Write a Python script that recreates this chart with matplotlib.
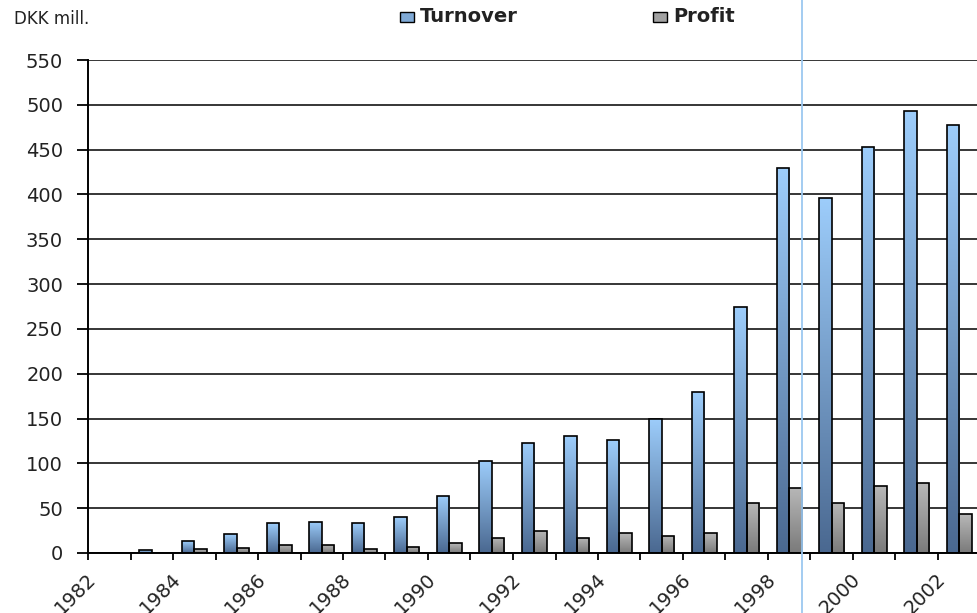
import matplotlib
matplotlib.use("Agg")
import matplotlib.pyplot as plt
import numpy as np
from matplotlib.colors import LinearSegmentedColormap
from matplotlib.transforms import ScaledTranslation
from matplotlib.lines import Line2D
from matplotlib.patches import Rectangle

years = list(range(1982, 2003))
turnover = [0, 3, 13, 21, 33, 35, 33, 40, 64, 103, 123, 130, 126, 150, 180, 274, 429, 396, 453, 493, 477]
profit = [0, 0, 4, 6, 9, 9, 4, 7, 11, 17, 25, 17, 22, 19, 22, 56, 73, 56, 75, 78, 43]
yticks = list(range(0, 551, 50))
xlabels = [str(y) for y in years if y % 2 == 0]

W, H = 978, 613
fig = plt.figure(figsize=(W / 100, H / 100), dpi=100)
ax = fig.add_axes([88 / W, (H - 553) / H, (980.5 - 88) / W, (553 - 60) / H])

x = np.arange(len(years))
bw = 0.29
cm_t = LinearSegmentedColormap.from_list("t", ["#4A6890", "#9DCDFB"])
cm_p = LinearSegmentedColormap.from_list("p", ["#7A7A7A", "#B8B8B8"])
grad = np.linspace(0, 1, 256).reshape(-1, 1)

b1 = ax.bar(x - bw / 2, turnover, bw, facecolor="none", edgecolor="black", linewidth=1.2, zorder=4)
b2 = ax.bar(x + bw / 2, profit, bw, facecolor="none", edgecolor="black", linewidth=1.2, zorder=4)
for bars, cm in ((b1, cm_t), (b2, cm_p)):
    for r in bars:
        h = r.get_height()
        if h <= 0:
            continue
        x0 = r.get_x()
        im = ax.imshow(grad, extent=[x0, x0 + r.get_width(), 0, h], origin="lower",
                       aspect="auto", cmap=cm, zorder=3)
        im.set_clip_path(r)

ax.set_xlim(-0.5, len(years) - 0.5)
ax.set_ylim(0, 550)
ax.set_yticks(yticks)
ax.yaxis.grid(True, color="black", linewidth=1.1)
ax.set_axisbelow(True)
for s in ("top", "right"):
    ax.spines[s].set_visible(False)
ax.spines["left"].set_linewidth(1.4)
ax.spines["bottom"].set_linewidth(1.4)
ax.spines["left"].set_zorder(5)
ax.spines["bottom"].set_zorder(5)

ax.set_xticks(np.arange(-0.5, len(years), 1.0))
ax.set_xticklabels([])
ax.set_xticks([i for i, y in enumerate(years) if y % 2 == 0], xlabels, minor=True)
ax.tick_params(axis="x", which="major", length=5, width=1.3, direction="out")
ax.tick_params(axis="x", which="minor", length=0, pad=12, labelsize=14, labelcolor="#222222")
ax.tick_params(axis="y", length=8, width=1.3, pad=10, labelsize=14, labelcolor="#222222")
off = ScaledTranslation(-0.1, 0, fig.dpi_scale_trans)
for lab in ax.get_xticklabels(minor=True):
    lab.set_rotation(45)
    lab.set_ha("right")
    lab.set_va("top")
    lab.set_transform(lab.get_transform() + off)

fig.text(14 / W, 1 - 19 / H, "DKK mill.", fontsize=12, color="#222222", va="center", ha="left")

# legend
for mx, label, cm in ((400, "Turnover", cm_t), (653, "Profit", cm_p)):
    fig.patches.append(Rectangle((mx / W, 1 - 22 / H), 14 / W, 10 / H, transform=fig.transFigure,
                                 facecolor=cm(0.65), edgecolor="black", linewidth=1.0))
    fig.text((mx + 20) / W, 1 - 16 / H, label, fontsize=14, fontweight="bold",
             color="#222222", va="center", ha="left")

fig.add_artist(Line2D([802 / W, 802 / W], [0, 1], transform=fig.transFigure,
                      color="#9CC8F0", linewidth=1.3, zorder=10))

fig.savefig("out.png", dpi=100)
